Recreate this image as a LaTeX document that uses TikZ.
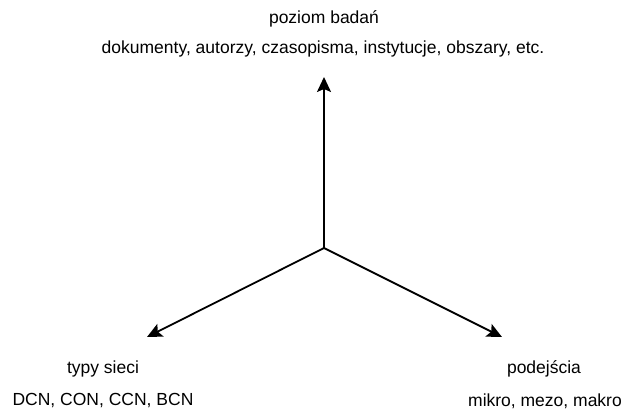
\documentclass[tikz,border=0pt]{standalone}
\usepackage{fontspec}
\setmainfont{Liberation Sans}
\usetikzlibrary{arrows.meta}
\begin{document}
\begin{tikzpicture}[x=1pt,y=-1pt,
  axis/.style={line width=1.8pt,-{Stealth[length=15pt,width=14pt,inset=3pt]}},
  lbl/.style={font=\fontsize{17.5}{20}\selectfont,inner sep=0pt,anchor=center}]
\useasboundingbox (0,0) rectangle (622,412);
\coordinate (o) at (324,248);
\coordinate (up) at (324,77);
\coordinate (left) at (147,337);
\coordinate (right) at (502,337);
\draw[axis] (o) -- (up);
\draw[axis] (o) -- (left);
\draw[axis] (o) -- (right);
\node[lbl] (t1) at (324,19) {poziom badań};
\node[lbl] (t2) at (323,49) {dokumenty, autorzy, czasopisma, instytucje, obszary, etc.};
\node[lbl] (l1) at (103,369) {typy sieci};
\node[lbl] (l2) at (103,401) {DCN, CON, CCN, BCN};
\node[lbl] (r1) at (544,369) {podejścia};
\node[lbl] (r2) at (545,401) {mikro, mezo, makro};
\end{tikzpicture}
\end{document}
